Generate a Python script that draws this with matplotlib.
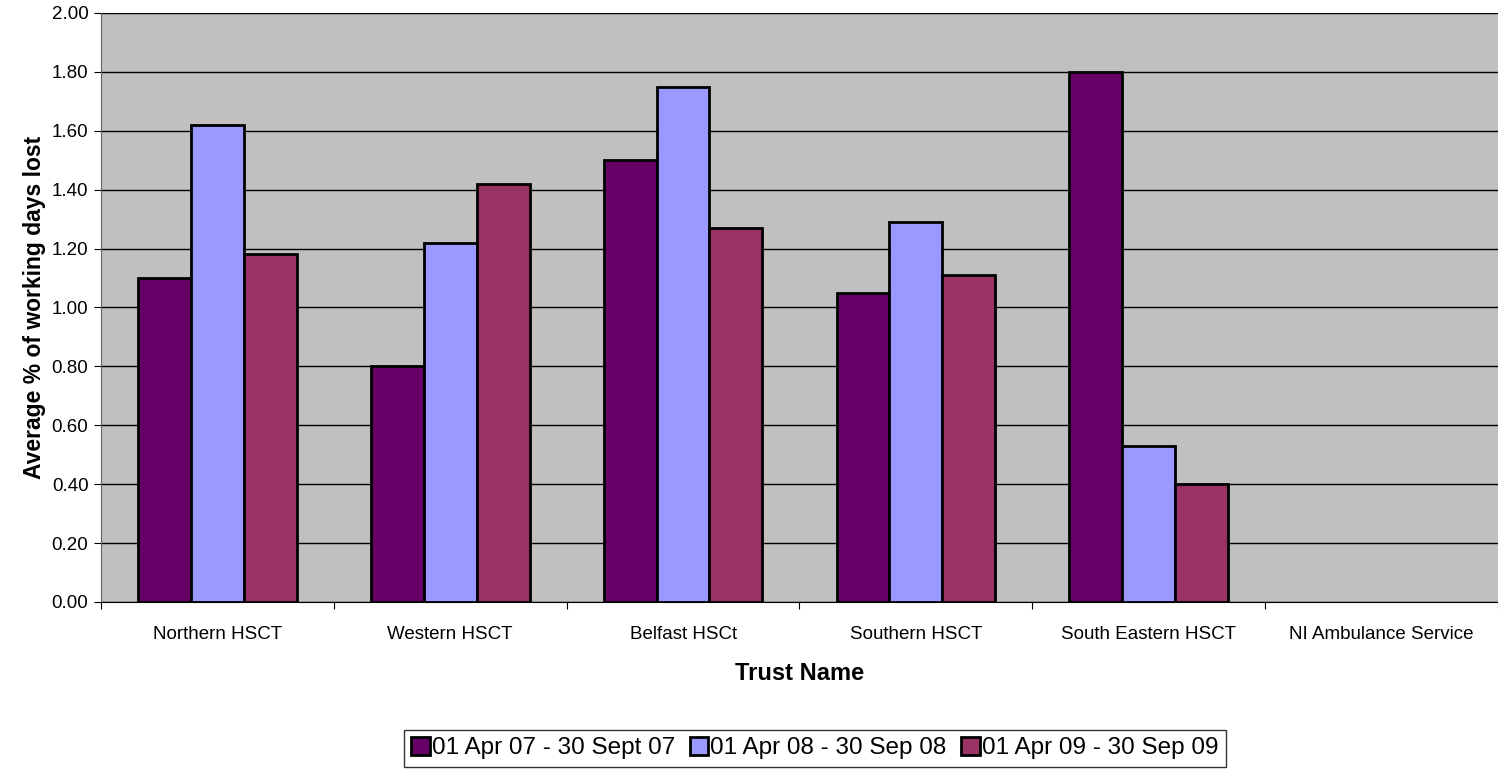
import matplotlib.pyplot as plt
import numpy as np

plt.rcParams['font.family'] = ['Liberation Sans', 'DejaVu Sans']

trusts = ["Northern HSCT", "Western HSCT", "Belfast HSCt", "Southern HSCT",
          "South Eastern HSCT", "NI Ambulance Service"]
labels = ["01 Apr 07 - 30 Sept 07", "01 Apr 08 - 30 Sep 08", "01 Apr 09 - 30 Sep 09"]
vals_07 = [1.10, 0.80, 1.50, 1.05, 1.80, np.nan]
vals_08 = [1.62, 1.22, 1.75, 1.29, 0.53, np.nan]
vals_09 = [1.18, 1.42, 1.27, 1.11, 0.40, np.nan]
colors = ["#660066", "#9999FF", "#993366"]

fig = plt.figure(figsize=(14.98, 7.69), dpi=100)
ax = fig.add_axes([0.0674, 0.2172, 0.9326, 0.7659])
ax.set_facecolor("#C0C0C0")

x = np.arange(len(trusts))
w = 0.227
for i, (vals, c, lab) in enumerate(zip([vals_07, vals_08, vals_09], colors, labels)):
    ax.bar(x + (i - 1) * w, vals, width=w, color=c, edgecolor="black",
           linewidth=2, label=lab, zorder=3)

ax.set_xlim(-0.5, len(trusts) - 0.5)
ax.set_ylim(0, 2.0)
ax.set_yticks(np.arange(0, 2.01, 0.2))
ax.set_yticklabels(["%.2f" % v for v in np.arange(0, 2.01, 0.2)], fontsize=13.5)
ax.yaxis.grid(True, color="black", linewidth=1, zorder=1)
ax.set_axisbelow(True)

# tick marks between categories, labels centred under groups
ax.set_xticks(np.arange(-0.5, len(trusts)), minor=False)
ax.set_xticklabels([])
ax.set_xticks(x, minor=True)
ax.set_xticklabels(trusts, minor=True, fontsize=13.5)
ax.tick_params(axis="x", which="minor", length=0, pad=17)
ax.tick_params(axis="x", which="major", length=5, direction="out")
ax.tick_params(axis="y", length=5, direction="out", pad=4)

for s in ["top", "right"]:
    ax.spines[s].set_visible(False)
ax.spines["left"].set_color("#606060")
ax.spines["bottom"].set_color("black")

ax.set_xlabel("Trust Name", fontsize=17, fontweight="bold", labelpad=14)
ax.set_ylabel("Average % of working days lost", fontsize=16.5, fontweight="bold", labelpad=4)

leg = fig.legend(loc="upper center", bbox_to_anchor=(0.544, 0.051), ncol=3,
                 fontsize=17.5, frameon=True, fancybox=False, edgecolor="black",
                 handlelength=0.75, handleheight=0.75, handletextpad=0.1,
                 columnspacing=0.6, borderpad=0.3, borderaxespad=0)
leg.get_frame().set_linewidth(1)

plt.savefig("out.png", dpi=100)
